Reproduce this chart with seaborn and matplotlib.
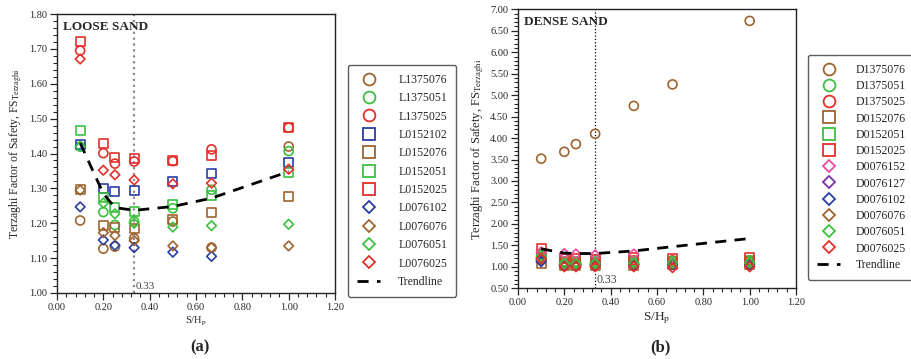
import numpy as np
import pandas as pd
import matplotlib
matplotlib.use("Agg")
import matplotlib.pyplot as plt
from matplotlib.lines import Line2D
from matplotlib.ticker import MultipleLocator, FormatStrFormatter
import seaborn as sns

sns.set_style("ticks")
plt.rcParams['font.family'] = ['Liberation Serif', 'DejaVu Serif']
plt.rcParams['mathtext.fontset'] = 'stix'

# ---------------- data ----------------
x_sh = [0.1, 0.2, 0.25, 0.333, 0.5, 0.667, 1.0]

# Loose sand (a)
L1375076 = [1.208, 1.127, 1.133, 1.156, 1.205, 1.130, 1.420]
L1375051 = [1.420, 1.232, 1.195, 1.205, 1.243, 1.296, 1.407]
L1375025 = [1.695, 1.401, 1.371, 1.377, 1.378, 1.412, 1.474]
L0152102 = [1.425, 1.300, 1.291, 1.294, 1.320, 1.344, 1.373]
L0152076 = [1.296, 1.193, 1.187, 1.184, 1.210, 1.232, 1.276]
L0152051 = [1.466, 1.275, 1.244, 1.234, 1.255, 1.281, 1.345]
L0152025 = [1.720, 1.429, 1.389, 1.385, 1.380, 1.393, 1.474]
L0076102 = [1.247, 1.152, 1.137, 1.130, 1.117, 1.105, np.nan]
L0076076 = [1.295, 1.173, 1.165, 1.150, 1.135, 1.130, 1.135]
L0076051 = [1.420, 1.258, 1.227, 1.200, 1.189, 1.193, 1.197]
L0076025 = [1.671, 1.352, 1.339, 1.324, 1.313, 1.315, 1.355]
loose_trend = [1.430, 1.285, 1.245, 1.237, 1.248, 1.272, 1.348]

# Dense sand (b)
D1375076 = [3.52, 3.68, 3.86, 4.10, 4.75, 5.25, 6.73]
D1375051 = [1.25, 1.08, 1.07, 1.08, 1.10, 1.12, 1.12]
D1375025 = [1.30, 1.12, 1.10, 1.10, 1.15, 1.15, 1.15]
D0152076 = [1.08, 1.02, 1.02, 1.02, 1.03, 1.05, 1.06]
D0152051 = [1.28, 1.12, 1.12, 1.12, 1.12, 1.13, 1.15]
D0152025 = [1.43, 1.20, 1.20, 1.18, 1.22, 1.19, 1.22]
D0076152 = [1.35, 1.31, 1.30, 1.28, 1.30, 1.10, 1.08]
D0076127 = [1.15, 1.05, 1.05, 1.05, 1.06, 1.06, 1.06]
D0076102 = [1.12, 1.04, 1.04, 1.04, 1.05, 1.05, 1.05]
D0076076 = [1.18, 1.06, 1.06, 1.06, 1.07, 1.07, 1.08]
D0076051 = [1.22, 1.08, 1.08, 1.08, 1.09, 1.09, 1.10]
D0076025 = [1.20, 1.00, 1.00, 1.00, 1.00, 0.98, 1.00]
dense_trend = [1.42, 1.32, 1.31, 1.31, 1.37, 1.47, 1.66]

# ---------------- styles ----------------
BROWN = '#9E6530'
GREEN = '#3CC040'
RED = '#E2302A'
BLUE = '#2A3DA5'
PINK = '#EC4A9E'
PURPLE = '#7B2FA8'

loose_series = [
    ('L1375076', L1375076, 'o', BROWN), ('L1375051', L1375051, 'o', GREEN),
    ('L1375025', L1375025, 'o', RED), ('L0152102', L0152102, 's', BLUE),
    ('L0152076', L0152076, 's', BROWN), ('L0152051', L0152051, 's', GREEN),
    ('L0152025', L0152025, 's', RED), ('L0076102', L0076102, 'D', BLUE),
    ('L0076076', L0076076, 'D', BROWN), ('L0076051', L0076051, 'D', GREEN),
    ('L0076025', L0076025, 'D', RED),
]
dense_series = [
    ('D1375076', D1375076, 'o', BROWN), ('D1375051', D1375051, 'o', GREEN),
    ('D1375025', D1375025, 'o', RED), ('D0152076', D0152076, 's', BROWN),
    ('D0152051', D0152051, 's', GREEN), ('D0152025', D0152025, 's', RED),
    ('D0076152', D0076152, 'D', PINK), ('D0076127', D0076127, 'D', PURPLE),
    ('D0076102', D0076102, 'D', BLUE), ('D0076076', D0076076, 'D', BROWN),
    ('D0076051', D0076051, 'D', GREEN), ('D0076025', D0076025, 'D', RED),
]

SIZES = {'o': 42, 's': 42, 'D': 24}

fig = plt.figure(figsize=(9.12, 3.59), dpi=100)
ax1 = fig.add_axes([57/912, 1-293/359, 278/912, 279/359])
ax2 = fig.add_axes([518/912, 1-288.3/359, 278/912, 279/359])


def draw(ax, series, trend, title, vcolor, vlw):
    for name, vals, mk, col in series:
        df = pd.DataFrame({'x': x_sh, 'y': vals}).dropna()
        sns.scatterplot(data=df, x='x', y='y', ax=ax, marker=mk, s=SIZES[mk],
                        facecolors='none', edgecolor=col, linewidth=1.2,
                        legend=False, zorder=3)
    tdf = pd.DataFrame({'x': x_sh, 'y': trend})
    sns.lineplot(data=tdf, x='x', y='y', ax=ax, color='black', lw=2.0,
                 dashes=(4, 3), legend=False, zorder=4)
    ax.axvline(0.333, color=vcolor, lw=vlw, ls=':', zorder=2)
    ax.text(0.02, 0.975, title, transform=ax.transAxes, fontsize=9.5,
            fontweight='bold', va='top', ha='left')
    ax.set_xlim(0, 1.2)
    ax.xaxis.set_major_locator(MultipleLocator(0.2))
    ax.xaxis.set_minor_locator(MultipleLocator(0.04))
    ax.xaxis.set_major_formatter(FormatStrFormatter('%.2f'))
    ax.yaxis.set_major_formatter(FormatStrFormatter('%.2f'))
    ax.tick_params(which='major', direction='out', length=5, width=0.9,
                   labelsize=7.5, pad=2)
    ax.tick_params(which='minor', direction='out', length=3, width=0.8)
    for sp in ax.spines.values():
        sp.set_visible(True)
        sp.set_color('#222222')
        sp.set_linewidth(1.0)
    ax.set_xlabel('')
    ax.set_ylabel('')


draw(ax1, loose_series, loose_trend, 'LOOSE SAND', '#8A8A8A', 1.6)
ax1.set_ylim(1.0, 1.8)
ax1.yaxis.set_major_locator(MultipleLocator(0.1))
ax1.yaxis.set_minor_locator(MultipleLocator(0.02))
ax1.text(0.338, 1.005, '0.33', fontsize=8, color='#444444', va='bottom')
ax1.set_ylabel('Terzaghi Factor of Safety, FS$_{\\mathrm{Terzaghi}}$', fontsize=8.5,
               labelpad=4)
ax1.set_xlabel('S/H$_{\\mathrm{p}}$', fontsize=7.5, labelpad=2)

draw(ax2, dense_series, dense_trend, 'DENSE SAND', 'black', 0.9)
ax2.set_ylim(0.5, 7.0)
ax2.yaxis.set_major_locator(MultipleLocator(0.5))
ax2.yaxis.set_minor_locator(MultipleLocator(0.1))
ax2.text(0.338, 0.56, '0.33', fontsize=8.5, color='#444444', va='bottom')
ax2.set_ylabel('Terzaghi Factor of Safety, FS$_{\\mathrm{Terzaghi}}$', fontsize=9,
               labelpad=3)
ax2.set_xlabel('S/H$_{\\mathrm{p}}$', fontsize=9.5, labelpad=2)

fig.text(200/912, 1-347/359, '(a)', fontsize=12, fontweight='bold',
         ha='center', va='center')
fig.text(660/912, 1-347/359, '(b)', fontsize=12, fontweight='bold',
         ha='center', va='center')


def make_handles(series):
    hs = []
    for name, vals, mk, col in series:
        ms = 8.5 if mk != 'D' else 6.5
        hs.append(Line2D([], [], ls='none', marker=mk, markersize=ms,
                         markerfacecolor='none', markeredgecolor=col,
                         markeredgewidth=1.3, label=name))
    hs.append(Line2D([], [], color='black', lw=2.0, dashes=(4, 3),
                     label='Trendline'))
    return hs


leg1 = fig.legend(handles=make_handles(loose_series), loc='upper left',
                  bbox_to_anchor=(348/912, 1-65/359), fontsize=8.5,
                  frameon=True, fancybox=True, edgecolor='#333333',
                  labelspacing=0.54, handlelength=2.0, borderpad=0.75,
                  handletextpad=1.5, borderaxespad=0)
leg1.get_frame().set_linewidth(1.0)
leg2 = fig.legend(handles=make_handles(dense_series), loc='upper left',
                  bbox_to_anchor=(808/912, 1-55/359), fontsize=8.5,
                  frameon=True, fancybox=True, edgecolor='#333333',
                  labelspacing=0.36, handlelength=2.0, borderpad=0.75,
                  handletextpad=1.3, borderaxespad=0)
leg2.get_frame().set_linewidth(1.0)

fig.savefig('out.png', dpi=100, facecolor='white')
